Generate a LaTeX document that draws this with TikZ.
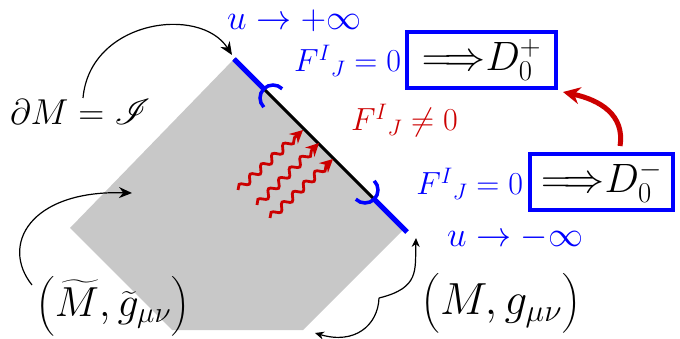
\RequirePackage{fix-cm}
\documentclass[tikz,border=0pt]{standalone}
\usepackage{amsmath}
\usepackage{exscale}
\usepackage{mathrsfs}
\DeclareFontFamily{U}{rsfs}{\skewchar\font127 }
\DeclareFontShape{U}{rsfs}{m}{n}{<-6>rsfs5<6-8>rsfs7<8->rsfs10}{}
\usetikzlibrary{arrows.meta,decorations.pathmorphing,calc}
\definecolor{pgray}{RGB}{200,200,200}
\definecolor{pblue}{RGB}{0,0,255}
\definecolor{pred}{RGB}{204,0,0}
\newcommand\fsU{\fontsize{35}{40}\selectfont}
\newcommand\fsF{\fontsize{32}{36}\selectfont}
\newcommand\fsD{\fontsize{36}{42}\selectfont}
\newcommand\fsBox{\fontsize{41}{48}\selectfont}
\newcommand\fsM{\fontsize{45}{50}\selectfont}
\newcommand\fsMt{\fontsize{42}{48}\selectfont}
\begin{document}
\begin{tikzpicture}[x=1pt,y=-1pt,
  lbl/.style={inner sep=0pt,outer sep=0pt},
  thinarrow/.style={line width=1.2pt,-{Stealth[length=13pt,width=11pt]}},
  smallarrow/.style={line width=1.2pt,-{Stealth[length=9pt,width=8pt]}},
  wavy/.style={pred,line width=2.8pt,-{Stealth[length=13pt,width=13pt]},decorate,decoration={snake,amplitude=3.4pt,segment length=15pt,post length=9pt}},
  dbox/.style={draw=pblue,line width=4pt,minimum height=56pt,inner sep=0pt,font=\fsBox},
  scri/.style={line width=3pt},
  bluebar/.style={pblue,line width=5pt},
  brk/.style={pblue,line width=3.5pt}]
\useasboundingbox (0,0) rectangle (680,339);
% region
\coordinate (T) at (234,59);
\coordinate (R) at (404,229);
\coordinate (BR) at (303,330);
\coordinate (BL) at (172,330);
\coordinate (L) at (70,228);
\coordinate (Rb) at (407,232);
\coordinate (Ct) at (273,98);
\coordinate (Cb) at (365,190);
\fill[pgray] (T) -- (R) -- (BR) -- (BL) -- (L) -- cycle;
\draw[scri] (T) -- (R);
\draw[bluebar] (T) -- ($(Ct)+(225:13)$);
\draw[bluebar] ($(Cb)+(45:13)$) -- (Rb);
\draw[brk] (Ct) ++(135:13) arc[start angle=135,end angle=315,radius=13];
\draw[brk] (Cb) ++(-45:13) arc[start angle=-45,end angle=135,radius=13];
% labels
\node[lbl,anchor=base west,text=pblue,font=\fsU] (uP) at (227,30) {$u\to+\infty$};
\node[lbl,anchor=base east,text=pblue,font=\fsF] (f1) at (401,72) {$F^{I}{}_{J}=0$};
\node[lbl,anchor=base west,text=pred,font=\fsF] (f2) at (351,131) {$F^{I}{}_{J}\neq0$};
\node[lbl,anchor=base east,text=pblue,font=\fsF] (f3) at (523,195) {$F^{I}{}_{J}=0$};
\node[lbl,anchor=base west,text=pblue,font=\fsU] (uM) at (447,247) {$u\to-\infty$};
\node[lbl,anchor=base west,font=\fsD] (dM) at (10,125) {$\partial M=\mathscr{I}$};
\node[lbl,font=\fsM] (Mg) at (501,303) {$\bigl(M,g_{\mu\nu}\bigr)$};
\node[lbl,font=\fsMt] (Mt) at (113,306) {$\bigl(\widetilde{M},\widetilde{g}_{\mu\nu}\bigr)$};
\node[dbox,minimum width=149pt] (Dp) at (481.5,60) {${\Longrightarrow}D_0^+$};
\node[dbox,minimum width=143pt] (Dm) at (601.5,182) {${\Longrightarrow}D_0^-$};
% arrows
\coordinate (a1) at (83,98);
\coordinate (a1e) at (232,55);
\draw[thinarrow] (a1) .. controls (90,20) and (200,5) .. (a1e);
\coordinate (a2) at (32,285);
\coordinate (a2e) at (132,193);
\draw[thinarrow] (a2) .. controls (0,245) and (30,190) .. (a2e);
\coordinate (jn) at (379,298);
\coordinate (a3e) at (416,238);
\coordinate (a4e) at (315,333);
\draw[smallarrow] (jn) .. controls (420,288) and (415,270) .. (a3e);
\draw[smallarrow] (jn) .. controls (378,325) and (355,345) .. (a4e);
\draw[pred,line width=5pt,-{Stealth[length=17pt,width=17pt]}] ([xshift=18.5pt,yshift=6pt]Dm.north) .. controls (625,115) and (600,100) .. ([xshift=5pt,yshift=-2pt]Dp.south east);
% wavy arrows
\coordinate (w1s) at (238,190);
\coordinate (w1e) at (303,130);
\coordinate (w2s) at (257,205);
\coordinate (w2e) at (319,143);
\coordinate (w3s) at (270,218);
\coordinate (w3e) at (333,159);
\draw[wavy] (w1s) -- (w1e);
\draw[wavy] (w2s) -- (w2e);
\draw[wavy] (w3s) -- (w3e);
\end{tikzpicture}
\end{document}
